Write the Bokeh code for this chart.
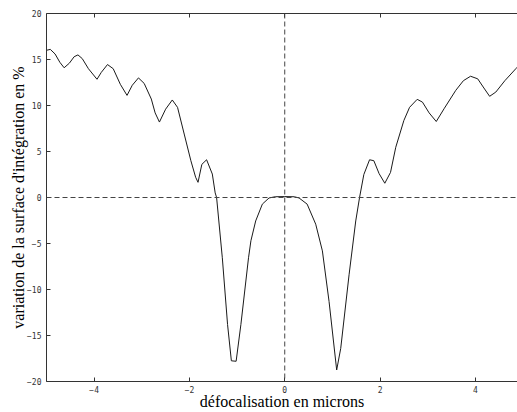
from bokeh.plotting import figure
from bokeh.models import LinearAxis, FixedTicker, Range1d, Span, CustomLabelingPolicy
from bokeh.embed import file_html
from bokeh.resources import INLINE

# data
x_microns = [-5.0, -4.92, -4.82, -4.72, -4.63, -4.52, -4.42, -4.34, -4.25, -4.12,
             -3.94, -3.85, -3.72, -3.60, -3.45, -3.31, -3.20, -3.07, -2.95, -2.80,
             -2.72, -2.63, -2.50, -2.36, -2.25, -2.11, -1.97, -1.87, -1.82, -1.74,
             -1.64, -1.52, -1.46, -1.43, -1.31, -1.20, -1.12, -1.02, -0.92, -0.76,
             -0.71, -0.61, -0.47, -0.33, -0.20, 0.0, 0.20, 0.30, 0.47, 0.65,
             0.79, 0.93, 1.09, 1.175, 1.35, 1.49, 1.57, 1.66, 1.78, 1.87,
             1.98, 2.10, 2.22, 2.33, 2.50, 2.62, 2.78, 2.89, 3.03, 3.18,
             3.35, 3.59, 3.75, 3.90, 4.05, 4.18, 4.30, 4.43, 4.62, 4.85, 5.0]
variation_pct = [16.0, 16.1, 15.6, 14.7, 14.1, 14.6, 15.3, 15.5, 15.1, 14.0,
                 12.85, 13.6, 14.45, 14.0, 12.3, 11.1, 12.2, 13.0, 12.4, 10.7,
                 9.2, 8.2, 9.6, 10.6, 9.8, 6.9, 4.0, 2.2, 1.65, 3.6,
                 4.1, 2.55, 0.5, 0.0, -6.55, -13.8, -17.75, -17.8, -13.8, -6.55,
                 -4.7, -2.55, -0.72, -0.05, 0.08, 0.1, 0.08, -0.05, -0.72, -2.9,
                 -5.8, -11.3, -18.75, -16.4, -8.4, -2.55, 0.0, 2.5, 4.1, 4.0,
                 2.6, 1.55, 2.73, 5.46, 8.37, 9.8, 10.67, 10.37, 9.2, 8.26,
                 9.7, 11.65, 12.7, 13.18, 12.9, 11.9, 11.0, 11.46, 12.7, 14.0, 14.8]

x_ticks = [-4, -2, 0, 2, 4]
y_ticks = [-20, -15, -10, -5, 0, 5, 10, 15, 20]
x_title = "défocalisation en microns"
y_title = "variation de la surface d'intégration en %"

p = figure(width=517, height=412, output_backend="svg", toolbar_location=None,
           x_range=Range1d(-5, 4.885), y_range=Range1d(-20, 20),
           min_border_left=46, min_border_top=13, min_border_right=0,
           min_border_bottom=10)
p.xgrid.visible = False
p.ygrid.visible = False
p.outline_line_color = None
p.background_fill_color = "white"
p.border_fill_color = "white"

axis_col = "#333333"
tick_font = "DejaVu Sans Mono"

for ax in p.xaxis:
    ax.ticker = FixedTicker(ticks=x_ticks)
    ax.major_tick_in = 4
    ax.major_tick_out = 0
    ax.minor_tick_line_color = None
    ax.axis_line_color = axis_col
    ax.major_tick_line_color = axis_col
    ax.major_label_text_font = tick_font
    ax.major_label_text_font_size = "8px"
    ax.major_label_text_color = axis_col
    ax.major_label_standoff = 4
    ax.axis_label = x_title
    ax.axis_label_text_font = "Liberation Serif"
    ax.axis_label_text_font_size = "16px"
    ax.axis_label_text_font_style = "normal"
    ax.axis_label_text_color = "black"
    ax.axis_label_standoff = -3

for ax in p.yaxis:
    ax.ticker = FixedTicker(ticks=y_ticks)
    ax.major_tick_in = 4
    ax.major_tick_out = 0
    ax.minor_tick_line_color = None
    ax.axis_line_color = axis_col
    ax.major_tick_line_color = axis_col
    ax.major_label_text_font = tick_font
    ax.major_label_text_font_size = "8px"
    ax.major_label_text_color = axis_col
    ax.major_label_standoff = 5
    ax.axis_label = y_title
    ax.axis_label_text_font = "Liberation Serif"
    ax.axis_label_text_font_size = "16px"
    ax.axis_label_text_font_style = "normal"
    ax.axis_label_text_color = "black"
    ax.axis_label_standoff = -3

no_labels = CustomLabelingPolicy(code="""
const all = [];
for (const i of indices) all.push(i);
for (const i of all) indices.unset(i);
return indices;
""")
top = LinearAxis(ticker=FixedTicker(ticks=x_ticks), major_tick_in=4, major_tick_out=0,
                 minor_tick_line_color=None, axis_line_color=axis_col,
                 major_tick_line_color=axis_col, major_label_text_font_size="8px",
                 major_label_policy=no_labels, major_label_standoff=0)
p.add_layout(top, "above")

p.add_layout(Span(location=0, dimension="width", line_color="#444444",
                  line_dash="5 3", line_width=1))
p.add_layout(Span(location=0, dimension="height", line_color="#444444",
                  line_dash="5 3", line_width=1))

p.line(x_microns, variation_pct, line_color="#1a1a1a", line_width=1)

open("out.html", "w").write(file_html(p, INLINE))
